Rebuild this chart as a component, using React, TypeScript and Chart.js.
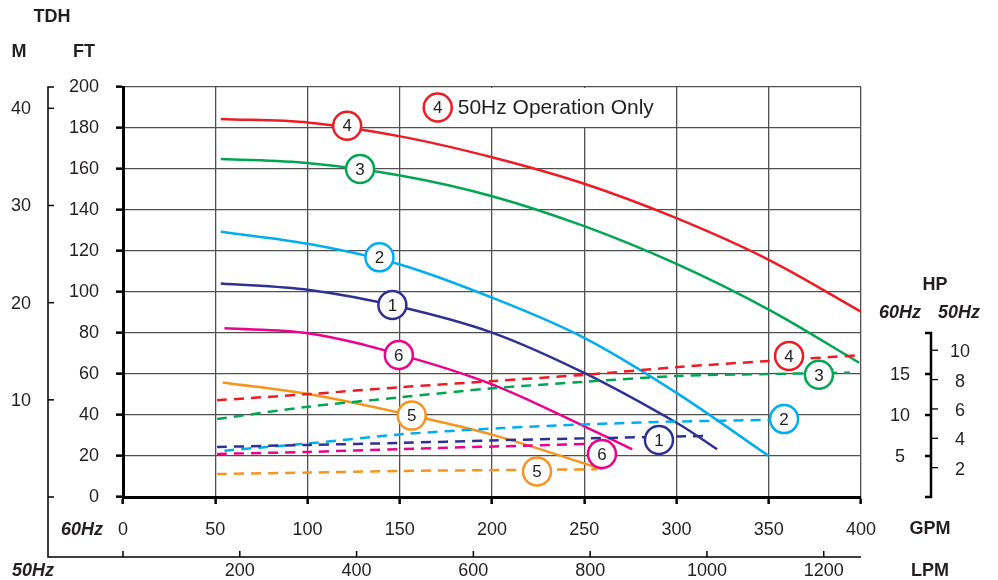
import React, { useEffect, useRef } from 'react';
import { Chart, registerables } from 'chart.js';

Chart.register(...registerables);

// ---------- data ----------
const GPM_TICKS_STEP = 50;
const FT_TICKS_STEP = 20;

// Head curves (GPM, FT) – pumps 1..6
const head1Gpm = [53, 101, 150, 200, 250, 300, 322];
const head1Ft = [104.2, 101, 92.8, 80.2, 60.5, 36.2, 23.3];
const head2Gpm = [53, 101, 151, 201, 250, 300, 350];
const head2Ft = [129.4, 123.4, 113.2, 96.9, 77.6, 50.8, 20];
const head3Gpm = [53, 101, 151, 201, 250, 300, 350, 399];
const head3Ft = [164.9, 162.8, 156.7, 146.5, 132.1, 113.7, 91.4, 65.5];
const head4Gpm = [53, 101, 151, 201, 250, 300, 350, 400];
const head4Ft = [184.4, 182.6, 175.8, 165.5, 152.8, 136.0, 115.7, 90.4];
const head5Gpm = [54, 101, 157, 201, 260];
const head5Ft = [55.8, 50.1, 39.7, 30.2, 13.5];
const head6Gpm = [55, 101, 151, 201, 250, 276];
const head6Ft = [82.3, 79.8, 69.2, 54.6, 34.5, 23.3];

// Power curves (GPM, HP @60Hz) – pumps 1..6
const hp1Gpm = [51, 101, 151, 200, 250, 316];
const hp1Val = [6.1, 6.35, 6.6, 6.9, 7.15, 7.45];
const hp2Gpm = [55, 101, 151, 205, 250, 300, 350];
const hp2Val = [5.65, 6.55, 7.65, 8.4, 8.85, 9.2, 9.4];
const hp3Gpm = [51, 100, 150, 200, 250, 300, 350, 394];
const hp3Val = [9.5, 11.0, 12.15, 13.25, 14.05, 14.75, 15.0, 15.15];
const hp4Gpm = [51, 101, 151, 201, 250, 301, 351, 400];
const hp4Val = [11.8, 12.55, 13.4, 14.15, 14.9, 15.85, 16.6, 17.3];
const hp5Gpm = [51, 101, 151, 216, 257];
const hp5Val = [2.8, 2.98, 3.18, 3.3, 3.38];
const hp6Gpm = [51, 101, 151, 216, 264];
const hp6Val = [5.25, 5.5, 5.85, 6.25, 6.55];

// Circle labels
const PUMP_IDS = ['1', '2', '3', '4', '5', '6'];
const headLabelGpm = [146, 139, 128.5, 121.5, 156.5, 149.5];
const headLabelFt = [93.7, 116.9, 160, 181.1, 39.7, 69.3];
const hpLabelGpm = [290.5, 358.3, 377.2, 361, 224.4, 259.6];
const hpLabelHp = [6.95, 9.5, 14.9, 17.2, 3.1, 5.25];

const NOTE_TEXT = '50Hz Operation Only';
const NOTE_PUMP = '4';

// Secondary scales
const M_TICKS = [0, 10, 20, 30, 40];
const M_TO_FT = 4.74;
const LPM_TICKS = [0, 200, 400, 600, 800, 1000, 1200];
const LPM_TO_GPM = 0.3165;
const HP60_TICKS = [5, 10, 15];
const HP60_MAX = 20;
const HP50_TICKS = [2, 4, 6, 8, 10];
const HP50_TO_HP60 = 1.79;

// ---------- styles ----------
const COLORS = ['#2e3192', '#00aeef', '#00a651', '#ed1c24', '#f7941d', '#ec008c'];
const FONT = '"Liberation Sans", Arial, sans-serif';
const INK = '#231f20';
const GRID = '#505050';

const headSets = [
  [head1Gpm, head1Ft], [head2Gpm, head2Ft], [head3Gpm, head3Ft],
  [head4Gpm, head4Ft], [head5Gpm, head5Ft], [head6Gpm, head6Ft],
];
const hpSets = [
  [hp1Gpm, hp1Val], [hp2Gpm, hp2Val], [hp3Gpm, hp3Val],
  [hp4Gpm, hp4Val], [hp5Gpm, hp5Val], [hp6Gpm, hp6Val],
];

function drawBadge(ctx: CanvasRenderingContext2D, cx: number, cy: number, color: string, text: string) {
  ctx.save();
  ctx.beginPath();
  ctx.arc(cx, cy, 14, 0, Math.PI * 2);
  ctx.fillStyle = '#fff';
  ctx.fill();
  ctx.lineWidth = 2.5;
  ctx.strokeStyle = color;
  ctx.stroke();
  ctx.fillStyle = INK;
  ctx.font = `17px ${FONT}`;
  ctx.textAlign = 'center';
  ctx.textBaseline = 'middle';
  ctx.fillText(text, cx, cy + 1);
  ctx.restore();
}

function text(ctx: CanvasRenderingContext2D, s: string, x: number, y: number, font: string, align: CanvasTextAlign = 'center') {
  ctx.font = font;
  ctx.fillStyle = INK;
  ctx.textAlign = align;
  ctx.textBaseline = 'middle';
  ctx.fillText(s, x, y);
}

const overlay = {
  id: 'overlay',
  beforeDatasetsDraw(chart: any) {
    const { ctx } = chart;
    const xs = chart.scales.x;
    const ys = chart.scales.y;
    const l = xs.getPixelForValue(150) + 1;
    const r = xs.getPixelForValue(300) - 1;
    const t = ys.getPixelForValue(200) + 1;
    const b = ys.getPixelForValue(180) - 1;
    ctx.save();
    ctx.fillStyle = '#fff';
    ctx.fillRect(l, t, r - l, b - t);
    ctx.restore();
    const cy = (t + b) / 2;
    drawBadge(ctx, l + 37, cy, COLORS[3], NOTE_PUMP);
    ctx.save();
    text(ctx, NOTE_TEXT, l + 57, cy + 1, `21px ${FONT}`, 'left');
    ctx.restore();
  },
  afterDatasetsDraw(chart: any) {
    const { ctx } = chart;
    const xs = chart.scales.x;
    const ys = chart.scales.y;
    const hs = chart.scales.hp;
    PUMP_IDS.forEach((id, i) => {
      drawBadge(ctx, xs.getPixelForValue(headLabelGpm[i]), ys.getPixelForValue(headLabelFt[i]), COLORS[i], id);
      drawBadge(ctx, xs.getPixelForValue(hpLabelGpm[i]), hs.getPixelForValue(hpLabelHp[i]), COLORS[i], id);
    });
  },
  afterDraw(chart: any) {
    const { ctx } = chart;
    const xs = chart.scales.x;
    const ys = chart.scales.y;
    const hs = chart.scales.hp;
    const bold = `bold 18px ${FONT}`;
    const boldIt = `italic bold 18px ${FONT}`;
    const reg = `18px ${FONT}`;
    ctx.save();
    ctx.strokeStyle = '#000';
    ctx.lineCap = 'butt';

    // M axis
    const mx = 48;
    const lpmY = 557;
    const top = ys.getPixelForValue(200);
    ctx.lineWidth = 1.5;
    ctx.beginPath();
    ctx.moveTo(mx + 6, top);
    ctx.lineTo(mx, top);
    ctx.lineTo(mx, lpmY);
    ctx.lineTo(xs.right, lpmY);
    ctx.stroke();
    M_TICKS.forEach((m) => {
      const py = ys.getPixelForValue(m * M_TO_FT);
      ctx.beginPath();
      ctx.moveTo(mx, py);
      ctx.lineTo(mx + 6, py);
      ctx.stroke();
      if (m > 0) text(ctx, String(m), 21, py + 1, reg);
    });

    // LPM axis
    LPM_TICKS.forEach((v) => {
      const px = xs.getPixelForValue(v * LPM_TO_GPM);
      ctx.beginPath();
      ctx.moveTo(px, lpmY);
      ctx.lineTo(px, lpmY - 6);
      ctx.stroke();
      if (v > 0) text(ctx, String(v), px, 571, reg);
    });

    // HP axis
    const hx = 931;
    const h0 = hs.getPixelForValue(0);
    const hTop = hs.getPixelForValue(HP60_MAX);
    ctx.lineWidth = 2.5;
    ctx.beginPath();
    ctx.moveTo(hx - 6, hTop);
    ctx.lineTo(hx, hTop);
    ctx.lineTo(hx, h0);
    ctx.lineTo(hx - 6, h0);
    ctx.stroke();
    HP60_TICKS.forEach((v) => {
      const py = hs.getPixelForValue(v);
      ctx.beginPath();
      ctx.moveTo(hx - 6, py);
      ctx.lineTo(hx, py);
      ctx.stroke();
      text(ctx, String(v), 900, py + 1, reg);
    });
    ctx.lineWidth = 1.3;
    HP50_TICKS.forEach((v) => {
      const py = hs.getPixelForValue(v * HP50_TO_HP60);
      ctx.beginPath();
      ctx.moveTo(hx, py);
      ctx.lineTo(hx + 7, py);
      ctx.stroke();
      text(ctx, String(v), 960, py + 2, reg);
    });

    // titles
    text(ctx, 'TDH', 52, 17, bold);
    text(ctx, 'M', 19, 52, bold);
    text(ctx, 'FT', 84, 52, bold);
    text(ctx, '60Hz', 82, 530, boldIt);
    text(ctx, '50Hz', 33, 571, boldIt);
    text(ctx, 'GPM', 930, 529, bold);
    text(ctx, 'LPM', 930, 571, bold);
    text(ctx, 'HP', 935, 285, bold);
    text(ctx, '60Hz', 900, 313, boldIt);
    text(ctx, '50Hz', 959, 313, boldIt);
    ctx.restore();
  },
};

export default function App() {
  const ref = useRef<HTMLCanvasElement | null>(null);
  useEffect(() => {
    if (!ref.current) return;
    const datasets: any[] = [];
    hpSets.forEach(([g, v], i) => {
      datasets.push({
        data: g.map((x, k) => ({ x, y: v[k] })),
        yAxisID: 'hp',
        borderColor: COLORS[i],
        borderWidth: 2.5,
        borderDash: [10, 7],
        pointRadius: 0,
        fill: false,
        tension: 0.3,
      });
    });
    headSets.forEach(([g, v], i) => {
      datasets.push({
        data: g.map((x, k) => ({ x, y: v[k] })),
        yAxisID: 'y',
        borderColor: COLORS[i],
        borderWidth: 2.5,
        pointRadius: 0,
        fill: false,
        tension: 0.35,
      });
    });
    const chart = new Chart(ref.current, {
      type: 'line',
      data: { datasets },
      options: {
        responsive: false,
        animation: false,
        devicePixelRatio: 1,
        layout: { padding: { top: 87, right: 137, left: 0, bottom: 0 } },
        plugins: { legend: { display: false }, tooltip: { enabled: false } },
        scales: {
          x: {
            type: 'linear',
            min: 0,
            max: 400,
            ticks: { stepSize: GPM_TICKS_STEP, color: INK, font: { family: FONT, size: 18 }, padding: 15, maxRotation: 0 },
            grid: { color: GRID, lineWidth: 1.3, tickColor: '#000', tickLength: 7, tickWidth: 2.5 },
            border: { color: '#000', width: 3 },
            afterFit: (s: any) => { s.height = 83; },
          },
          y: {
            type: 'linear',
            min: 0,
            max: 200,
            ticks: { stepSize: FT_TICKS_STEP, color: INK, font: { family: FONT, size: 18 }, padding: 17 },
            grid: { color: GRID, lineWidth: 1.3, tickColor: '#000', tickLength: 7, tickWidth: 2.5 },
            border: { color: '#000', width: 3 },
            afterFit: (s: any) => { s.width = 123; },
          },
          hp: {
            type: 'linear',
            display: false,
            min: 0,
            max: 50,
          },
        },
      } as any,
      plugins: [overlay],
    });
    return () => chart.destroy();
  }, []);
  return (
    <div style={{ position: 'absolute', left: 0, top: 0, width: 998, height: 580, background: '#fff' }}>
      <canvas ref={ref} width={998} height={580} style={{ width: 998, height: 580 }} />
    </div>
  );
}
